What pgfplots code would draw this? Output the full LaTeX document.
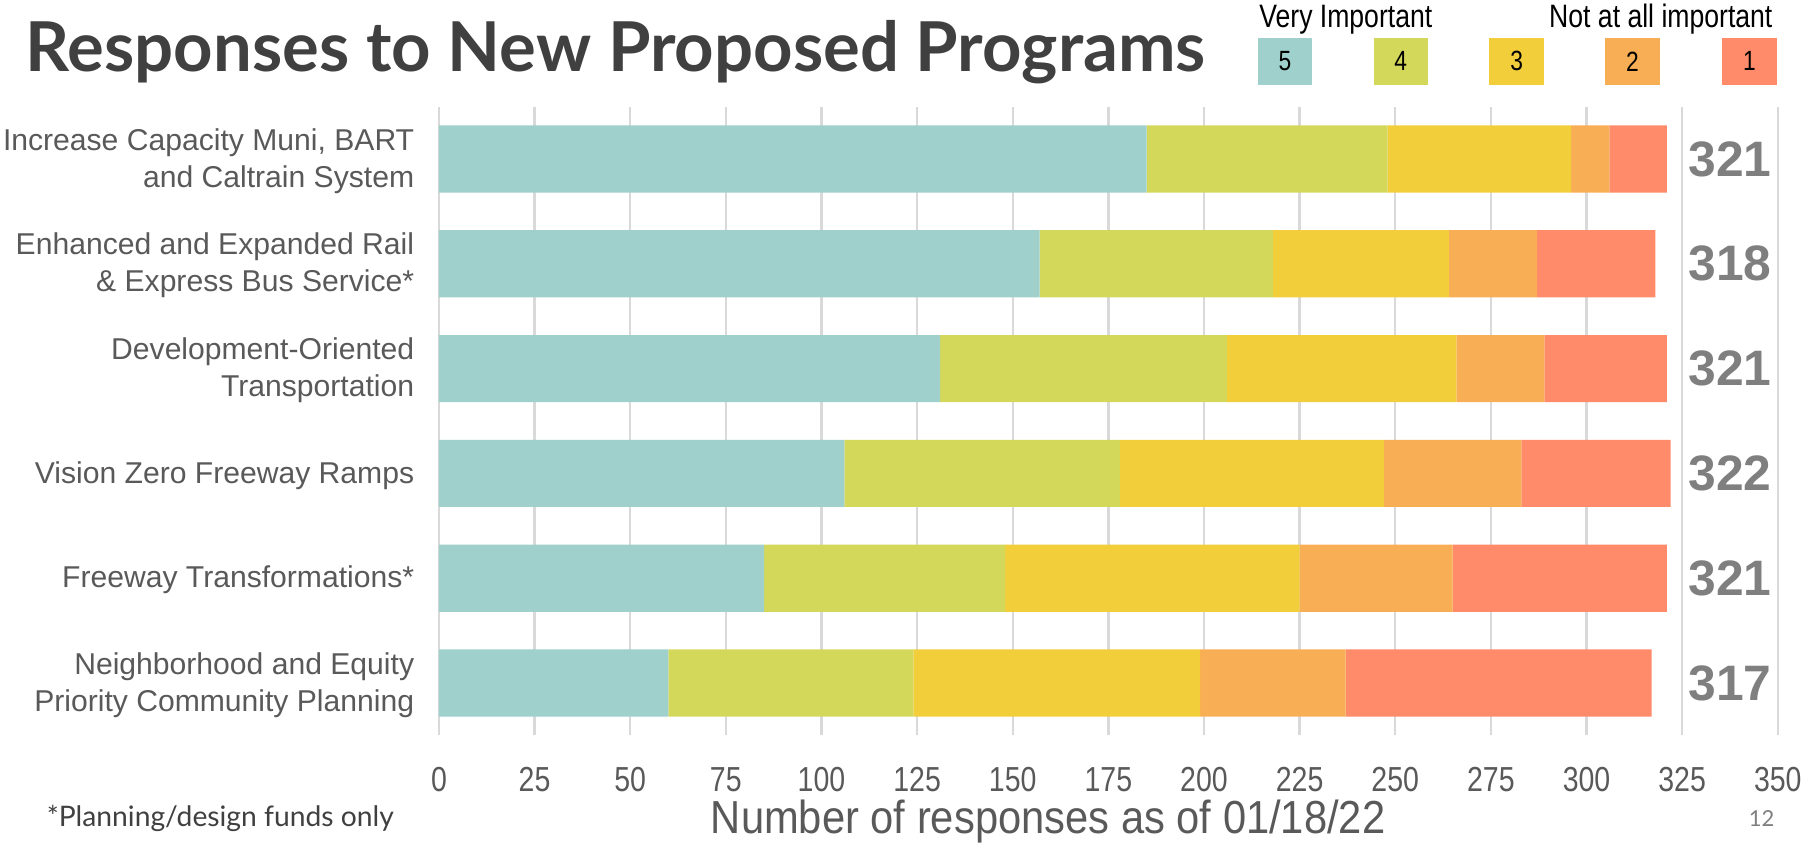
\documentclass[border=0pt]{standalone}
\usepackage{pgfplots}
\pgfplotsset{compat=1.18}
\usepackage{pgfplotstable}
\usepackage{fontspec}
\setmainfont{Liberation Sans}
\newfontfamily\latofont{Lato}
\newfontfamily\condfont[FakeStretch=0.82]{Liberation Sans}
\newfontfamily\labfont[FakeStretch=0.9]{Liberation Sans}
\definecolor{c5}{RGB}{160,208,203}
\definecolor{c4}{RGB}{212,216,90}
\definecolor{c3}{RGB}{242,206,59}
\definecolor{c2}{RGB}{248,174,84}
\definecolor{c1}{RGB}{255,139,106}
\definecolor{titlegray}{RGB}{64,64,64}
\definecolor{labgray}{RGB}{89,89,89}
\definecolor{totgray}{RGB}{127,127,127}
\definecolor{gridgray}{RGB}{217,217,217}

\pgfplotstableread{
y v5 v4 v3 v2 v1 total
5 185 63 48 10 15 321
4 157 61 46 23 31 318
3 131 75 60 23 32 321
2 106 72 69 36 39 322
1 85 63 77 40 56 321
0 60 64 75 38 80 317
}\data

\tikzset{totstyle/.style={font=\bfseries\fontsize{21.5bp}{24bp}\selectfont, text=totgray}}

\begin{document}
\begin{tikzpicture}
\useasboundingbox (0,0) rectangle (784bp,-364bp);
% title
\node[anchor=base west, inner sep=0pt, text=titlegray, font=\latofont\bfseries\fontsize{29.7bp}{36bp}\selectfont] at (11bp,-31bp) {Responses to New Proposed Programs};
% legend
\foreach \c/\n/\xx in {c5/5/543, c4/4/593, c3/3/643, c2/2/693, c1/1/743.5}{
  \fill[\c] (\xx bp,-16.5bp) rectangle ++(23.5bp,-20bp);
  \node[font=\condfont\fontsize{12bp}{14bp}\selectfont, text=black, inner sep=0pt] at (\xx bp+11.75bp,-26.5bp) {\n};
}
\node[anchor=base, inner sep=0pt, font=\condfont\fontsize{14bp}{16bp}\selectfont] at (581bp,-12bp) {Very Important};
\node[anchor=base, inner sep=0pt, font=\condfont\fontsize{14bp}{16bp}\selectfont] at (717bp,-12bp) {Not at all important};
\begin{axis}[
  at={(189.5bp,-317.5bp)}, anchor=south west,
  scale only axis, width=578bp, height=271.5bp,
  xmin=0, xmax=350, ymin=-0.5, ymax=5.5,
  xbar stacked, bar width=29bp,
  xtick={0,25,...,350}, ytick={0,1,2,3,4,5},
  yticklabels={{Neighborhood and Equity\\Priority Community Planning},
    {Freeway Transformations*},
    {Vision Zero Freeway Ramps},
    {Development-Oriented\\Transportation},
    {Enhanced and Expanded Rail\\\& Express Bus Service*},
    {Increase Capacity Muni, BART\\and Caltrain System}},
  axis line style={draw=none}, major tick length=0pt,
  xmajorgrids, grid style={draw=gridgray, line width=1bp},
  /pgf/number format/assume math mode=true,
  xticklabel style={font=\condfont\fontsize{15bp}{17bp}\selectfont, text=labgray, inner sep=0pt, yshift=-13.5bp},
  yticklabel style={font=\fontsize{13bp}{16bp}\selectfont, text=labgray, align=right, inner sep=0pt, xshift=-10.5bp, yshift=-0.8bp},
  clip=false,
]
\addplot[fill=c5, draw=none] table[x=v5, y=y] {\data};
\addplot[fill=c4, draw=none] table[x=v4, y=y] {\data};
\addplot[fill=c3, draw=none] table[x=v3, y=y] {\data};
\addplot[fill=c2, draw=none] table[x=v2, y=y] {\data};
\addplot[fill=c1, draw=none] table[x=v1, y=y] {\data};
\node[totstyle] at (axis cs:337.5,5) {321};
\node[totstyle] at (axis cs:337.5,4) {318};
\node[totstyle] at (axis cs:337.5,3) {321};
\node[totstyle] at (axis cs:337.5,2) {322};
\node[totstyle] at (axis cs:337.5,1) {321};
\node[totstyle] at (axis cs:337.5,0) {317};
\end{axis}
\node[anchor=base, inner sep=0pt, font=\labfont\fontsize{20bp}{22bp}\selectfont, text=labgray] at (452.5bp,-360bp) {Number of responses as of 01/18/22};
\node[anchor=base west, inner sep=0pt, font=\latofont\fontsize{12.2bp}{14bp}\selectfont, text=titlegray] at (20bp,-357bp) {*Planning/design funds only};
\node[anchor=base, inner sep=0pt, font=\latofont\fontsize{9.5bp}{11bp}\selectfont, text=totgray] at (760.5bp,-357bp) {12};
\end{tikzpicture}
\end{document}
